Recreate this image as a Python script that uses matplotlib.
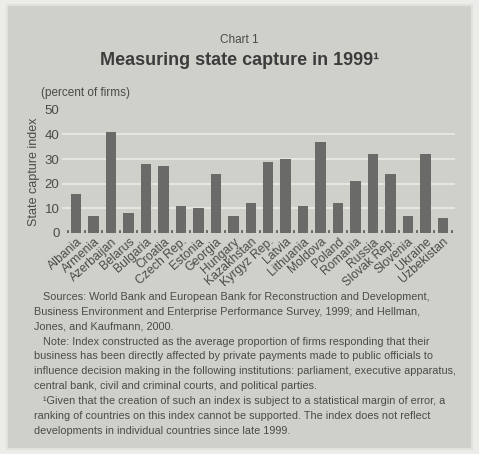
import numpy as np
import matplotlib.pyplot as plt
from matplotlib.patches import Rectangle

plt.rcParams['font.family'] = ['Liberation Sans Narrow', 'Liberation Sans', 'DejaVu Sans']

# Data
countries = ['Albania', 'Armenia', 'Azerbaijan', 'Belarus', 'Bulgaria', 'Croatia',
             'Czech Rep.', 'Estonia', 'Georgia', 'Hungary', 'Kazakhstan', 'Kyrgyz Rep.',
             'Latvia', 'Lithuania', 'Moldova', 'Poland', 'Romania', 'Russia',
             'Slovak Rep.', 'Slovenia', 'Ukraine', 'Uzbekistan']
capture = [16, 7, 41, 8, 28, 27, 11, 10, 24, 7, 12, 29,
           30, 11, 37, 12, 21, 32, 24, 7, 32, 6]
yticks = [0, 10, 20, 30, 40, 50]

panel = '#d0d0ca'
text_col = '#4a4a4a'

fig = plt.figure(figsize=(4.79, 4.54), dpi=100, facecolor='#ececE8')
fig.patches.append(Rectangle((0.015, 0.012), 0.97, 0.976, transform=fig.transFigure,
                             facecolor=panel, edgecolor='#e2e2dc', lw=1.5, zorder=-5))

ax = fig.add_axes([0.13, 0.487, 0.82, 0.271])
ax.set_facecolor(panel)
x = np.arange(len(countries))
ax.bar(x, capture, width=0.6, color='#6a6a68', zorder=3)
ax.set_xlim(-0.8, len(countries) - 0.3)
ax.set_ylim(0, 50)
ax.set_yticks(yticks)
ax.set_yticklabels([str(v) for v in yticks], fontsize=9.5, color=text_col)
for v in yticks[1:-1]:
    ax.axhline(v, color='#ebebe6', lw=1.2, zorder=1)
# small marks between categories on the baseline
for b in np.arange(-0.5, len(countries), 1.0):
    ax.plot([b, b], [0, 0.8], color='#555555', lw=1.2, zorder=4)
ax.set_xticks(x)
ax.set_xticklabels(countries, rotation=42, ha='right', rotation_mode='anchor',
                   fontsize=8.8, color=text_col)
ax.tick_params(length=0, pad=2)
for s in ax.spines.values():
    s.set_visible(False)
ax.set_ylabel('State capture index', fontsize=9, color=text_col, labelpad=3)

fig.text(0.5, 0.905, 'Chart 1', ha='center', fontsize=8.5, color=text_col)
fig.text(0.5, 0.856, 'Measuring state capture in 1999¹', ha='center',
         fontsize=13, fontweight='bold', color='#3c3c3c')
fig.text(0.085, 0.788, '(percent of firms)', fontsize=8.5, color=text_col)

notes = ("   Sources: World Bank and European Bank for Reconstruction and Development,\n"
         "Business Environment and Enterprise Performance Survey, 1999; and Hellman,\n"
         "Jones, and Kaufmann, 2000.\n"
         "   Note: Index constructed as the average proportion of firms responding that their\n"
         "business has been directly affected by private payments made to public officials to\n"
         "influence decision making in the following institutions: parliament, executive apparatus,\n"
         "central bank, civil and criminal courts, and political parties.\n"
         "   ¹Given that the creation of such an index is subject to a statistical margin of error, a\n"
         "ranking of countries on this index cannot be supported. The index does not reflect\n"
         "developments in individual countries since late 1999.")
fig.text(0.07, 0.357, notes, fontsize=7.8, color=text_col, va='top', linespacing=1.61)

fig.savefig('out.png', dpi=100, facecolor=fig.get_facecolor())
